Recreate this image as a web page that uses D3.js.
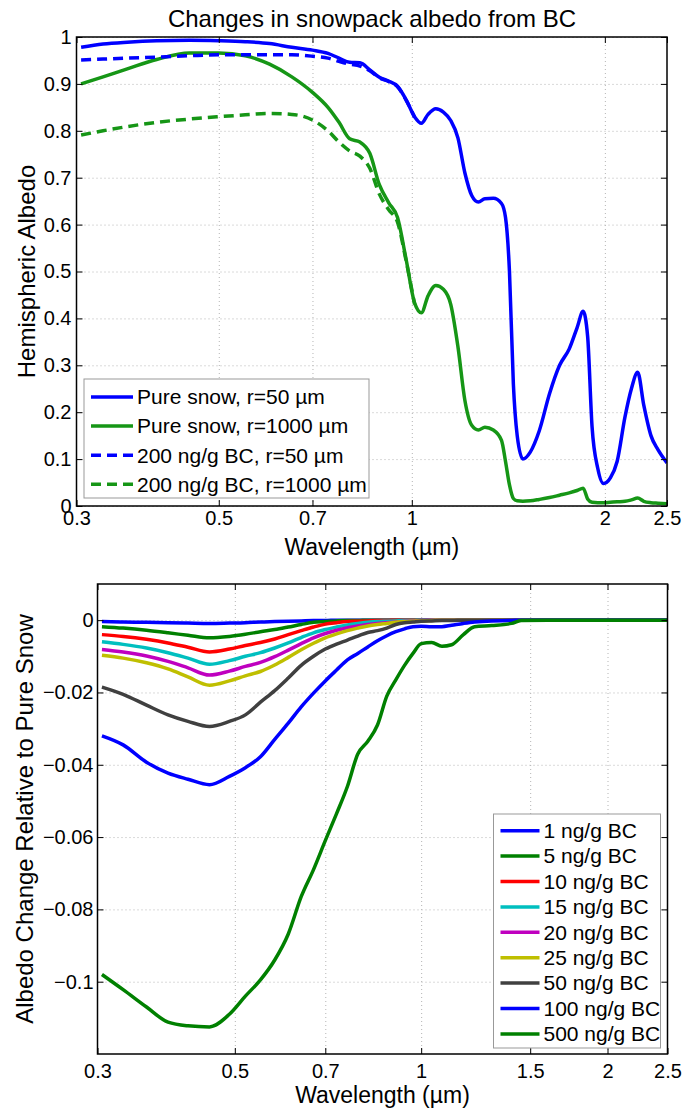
<!DOCTYPE html>
<html>
<head>
<meta charset="utf-8">
<script src="https://cdn.jsdelivr.net/npm/d3@7"></script>
<style>
  body { margin: 0; background: #fff; }
  svg text { font-family: "Liberation Sans", Arial, Helvetica, sans-serif; fill: #000; }
</style>
</head>
<body>
<div id="figure"></div>
<script>
// upper panel: hemispheric albedo
const albedoWavelengths = [0.305, 0.33, 0.36, 0.4, 0.45, 0.5, 0.55, 0.6, 0.65, 0.7,
  0.74, 0.77, 0.8, 0.83, 0.86, 0.89, 0.92, 0.95, 0.98, 1.01,
  1.035, 1.06, 1.09, 1.12, 1.15, 1.18, 1.21, 1.24, 1.27, 1.3,
  1.34, 1.38, 1.4, 1.42, 1.44, 1.46, 1.49, 1.53, 1.58, 1.64,
  1.7, 1.76, 1.81, 1.85, 1.88, 1.91, 1.95, 1.99, 2.04, 2.09,
  2.15, 2.2, 2.25, 2.3, 2.36, 2.42, 2.5];
const pureSnowR50 = [0.978, 0.985, 0.989, 0.992, 0.993, 0.992, 0.990, 0.986, 0.978, 0.972,
  0.965, 0.955, 0.946, 0.945, 0.930, 0.914, 0.906, 0.895, 0.866, 0.830,
  0.816, 0.835, 0.847, 0.840, 0.822, 0.785, 0.710, 0.662, 0.648, 0.655,
  0.656, 0.645, 0.615, 0.500, 0.260, 0.150, 0.100, 0.115, 0.160, 0.240,
  0.300, 0.335, 0.380, 0.415, 0.362, 0.170, 0.080, 0.048, 0.060, 0.095,
  0.190, 0.250, 0.285, 0.215, 0.150, 0.120, 0.092];
const pureSnowR1000 = [0.900, 0.915, 0.932, 0.952, 0.966, 0.966, 0.960, 0.942, 0.915, 0.882,
  0.850, 0.818, 0.783, 0.776, 0.752, 0.685, 0.647, 0.615, 0.525, 0.433,
  0.412, 0.448, 0.470, 0.462, 0.430, 0.340, 0.225, 0.172, 0.162, 0.168,
  0.162, 0.140, 0.095, 0.045, 0.016, 0.011, 0.010, 0.011, 0.014, 0.018,
  0.023, 0.028, 0.033, 0.038, 0.015, 0.008, 0.007, 0.007, 0.008, 0.009,
  0.010, 0.013, 0.017, 0.010, 0.007, 0.006, 0.005];
const bcWavelengths = [0.305, 0.33, 0.36, 0.4, 0.45, 0.5, 0.55, 0.6, 0.65, 0.7,
  0.74, 0.77, 0.8, 0.83, 0.86, 0.89, 0.92, 0.95, 0.98, 1.01];
const bcR50 = [0.951, 0.953, 0.955, 0.957, 0.960, 0.962, 0.962, 0.962, 0.962, 0.959,
  0.955, 0.948, 0.942, 0.938, 0.928, 0.913, 0.905, 0.894, 0.865, 0.829];
const bcR1000 = [0.791, 0.800, 0.809, 0.818, 0.825, 0.830, 0.834, 0.837, 0.835, 0.823,
  0.800, 0.776, 0.757, 0.746, 0.720, 0.665, 0.632, 0.605, 0.522, 0.430];
const albedoLabels = ['Pure snow, r=50 \u00b5m', 'Pure snow, r=1000 \u00b5m',
  '200 ng/g BC, r=50 \u00b5m', '200 ng/g BC, r=1000 \u00b5m'];
const albedoXTicks = [0.3, 0.5, 0.7, 1, 2, 2.5];
const albedoXTickLabels = ['0.3', '0.5', '0.7', '1', '2', '2.5'];
const albedoYTicks = [0, 0.1, 0.2, 0.3, 0.4, 0.5, 0.6, 0.7, 0.8, 0.9, 1];
const albedoYTickLabels = ['0', '0.1', '0.2', '0.3', '0.4', '0.5', '0.6', '0.7', '0.8', '0.9', '1'];

// lower panel: albedo change relative to pure snow
const changeWavelengths = [0.305, 0.33, 0.36, 0.39, 0.42, 0.455, 0.49, 0.52, 0.55, 0.58,
  0.61, 0.64, 0.67, 0.7, 0.73, 0.76, 0.79, 0.82, 0.85, 0.88,
  0.91, 0.94, 0.97, 1.0, 1.04, 1.08, 1.12, 1.17, 1.22, 1.3,
  1.4, 1.45, 1.6, 1.8, 2.0, 2.2, 2.5];
const change1 = [-0.0004, -0.0005, -0.0006, -0.0007, -0.0008, -0.0009, -0.0008, -0.0007, -0.0005, -0.0004,
  -0.0003, -0.0002, -0.0001, -0.0001, 0, 0, 0, 0, 0, 0,
  0, 0, 0, 0, 0, 0, 0, 0, 0, 0,
  0, 0, 0, 0, 0, 0, 0];
const change5 = [-0.0018, -0.0022, -0.0028, -0.0035, -0.0042, -0.0049, -0.0045, -0.0039, -0.0032, -0.0026,
  -0.0019, -0.0012, -0.0006, -0.0004, -0.0002, -0.0001, -0.0001, 0, 0, 0,
  0, 0, 0, 0, 0, 0, 0, 0, 0, 0,
  0, 0, 0, 0, 0, 0, 0];
const change10 = [-0.0040, -0.0045, -0.0053, -0.0063, -0.0075, -0.0088, -0.0080, -0.0070, -0.0062, -0.0052,
  -0.0040, -0.0029, -0.0019, -0.0011, -0.0007, -0.0004, -0.0003, -0.0002, -0.0001, -0.0001,
  0, 0, 0, 0, 0, 0, 0, 0, 0, 0,
  0, 0, 0, 0, 0, 0, 0];
const change15 = [-0.0060, -0.0067, -0.0077, -0.0090, -0.0105, -0.0122, -0.0112, -0.0100, -0.0090, -0.0077,
  -0.0063, -0.0048, -0.0035, -0.0026, -0.0019, -0.0013, -0.0009, -0.0006, -0.0004, -0.0003,
  -0.0002, -0.0001, -0.0001, 0, 0, 0, 0, 0, 0, 0,
  0, 0, 0, 0, 0, 0, 0];
const change20 = [-0.0081, -0.0088, -0.0099, -0.0114, -0.0132, -0.0152, -0.0141, -0.0128, -0.0117, -0.0101,
  -0.0083, -0.0065, -0.0049, -0.0037, -0.0028, -0.0021, -0.0016, -0.0012, -0.0009, -0.0007,
  -0.0005, -0.0003, -0.0002, -0.0001, 0, 0, 0, 0, 0, 0,
  0, 0, 0, 0, 0, 0, 0];
const change25 = [-0.0097, -0.0105, -0.0118, -0.0135, -0.0157, -0.0180, -0.0168, -0.0154, -0.0142, -0.0124,
  -0.0103, -0.0082, -0.0064, -0.0049, -0.0038, -0.0029, -0.0022, -0.0016, -0.0012, -0.0009,
  -0.0006, -0.0004, -0.0003, -0.0002, -0.0001, 0, 0, 0, 0, 0,
  0, 0, 0, 0, 0, 0, 0];
const change50 = [-0.0185, -0.0205, -0.0235, -0.0262, -0.0280, -0.0294, -0.0280, -0.0262, -0.0227, -0.0195,
  -0.0160, -0.0125, -0.0100, -0.0080, -0.0066, -0.0055, -0.0044, -0.0034, -0.0029, -0.0022,
  -0.0012, -0.0007, -0.0005, -0.0003, -0.0002, -0.0001, -0.0001, 0, 0, 0,
  0, 0, 0, 0, 0, 0, 0];
const change100 = [-0.0320, -0.0345, -0.0393, -0.0423, -0.0440, -0.0455, -0.0432, -0.0408, -0.0378, -0.0330,
  -0.0285, -0.0240, -0.0202, -0.0168, -0.0138, -0.0110, -0.0092, -0.0074, -0.0057, -0.0043,
  -0.0032, -0.0024, -0.0018, -0.0017, -0.0018, -0.0018, -0.0014, -0.0009, -0.0005, -0.0002,
  -0.0001, 0, 0, 0, 0, 0, 0];
const change500 = [-0.0980, -0.1022, -0.1070, -0.1112, -0.1122, -0.1125, -0.1090, -0.1040, -0.0995, -0.0940,
  -0.0868, -0.0765, -0.0690, -0.0610, -0.0535, -0.0460, -0.0370, -0.0335, -0.0290, -0.0210,
  -0.0165, -0.0125, -0.0092, -0.0065, -0.0062, -0.0072, -0.0068, -0.0040, -0.0018, -0.0015,
  -0.0009, -0.0001, 0, 0, 0, 0, 0];
const changeLabels = ['1 ng/g BC', '5 ng/g BC', '10 ng/g BC', '15 ng/g BC', '20 ng/g BC',
  '25 ng/g BC', '50 ng/g BC', '100 ng/g BC', '500 ng/g BC'];
const changeXTicks = [0.3, 0.5, 0.7, 1, 1.5, 2, 2.5];
const changeXTickLabels = ['0.3', '0.5', '0.7', '1', '1.5', '2', '2.5'];
const changeYTicks = [0, -0.02, -0.04, -0.06, -0.08, -0.1];
const changeYTickLabels = ['0', '\u22120.02', '\u22120.04', '\u22120.06', '\u22120.08', '\u22120.1'];

const fig = d3.select('#figure')
  .append('svg')
    .attr('width', 683)
    .attr('height', 1112);

function drawPanel(p) {
  const x = d3.scaleLog().domain([0.3, 2.5]).range([p.left, p.right]);
  const y = d3.scaleLinear().domain(p.yDomain).range([p.bottom, p.top]);
  const w = p.right - p.left;
  const h = p.bottom - p.top;
  const panel = fig.append('g');

  // dotted grid
  panel.append('g')
    .attr('transform', `translate(0,${p.bottom})`)
    .call(d3.axisBottom(x).tickValues(p.xTicks.slice(1, -1)).tickSize(-h).tickFormat(''))
    .call(g => g.select('.domain').remove())
    .selectAll('line')
      .attr('stroke', '#b4b4b4')
      .attr('stroke-dasharray', '1,3');
  panel.append('g')
    .attr('transform', `translate(${p.left},0)`)
    .call(d3.axisLeft(y).tickValues(p.yTicks).tickSize(-w).tickFormat(''))
    .call(g => g.select('.domain').remove())
    .selectAll('line')
      .attr('stroke', '#b4b4b4')
      .attr('stroke-dasharray', '1,3');

  panel.append('clipPath')
    .attr('id', p.id + '-clip')
    .append('rect')
      .attr('x', p.left)
      .attr('y', p.top)
      .attr('width', w)
      .attr('height', h);

  const line = d3.line()
    .x(d => x(d[0]))
    .y(d => y(d[1]))
    .curve(d3.curveMonotoneX);

  panel.append('g')
    .attr('clip-path', `url(#${p.id}-clip)`)
    .selectAll('path')
    .data(p.series)
    .join('path')
      .attr('d', d => line(d3.zip(d.wl, d.values)))
      .attr('fill', 'none')
      .attr('stroke', d => d.color)
      .attr('stroke-width', 3.5)
      .attr('stroke-linejoin', 'round')
      .attr('stroke-dasharray', d => d.dash ? '10,6' : null);

  // axes with labels, ticks pointing inward
  panel.append('g')
    .attr('transform', `translate(0,${p.bottom})`)
    .call(d3.axisBottom(x).tickValues(p.xTicks).tickFormat((d, i) => p.xTickLabels[i])
      .tickSizeInner(-6).tickSizeOuter(0).tickPadding(p.xPad))
    .call(g => g.select('.domain').remove())
    .attr('font-size', 20);
  panel.append('g')
    .attr('transform', `translate(${p.left},0)`)
    .call(d3.axisLeft(y).tickValues(p.yTicks).tickFormat((d, i) => p.yTickLabels[i])
      .tickSizeInner(-6).tickSizeOuter(0).tickPadding(p.yPad))
    .call(g => g.select('.domain').remove())
    .attr('font-size', 20);
  panel.append('g')
    .attr('transform', `translate(0,${p.top})`)
    .call(d3.axisTop(x).tickValues(p.xTicks).tickFormat('').tickSizeInner(-6).tickSizeOuter(0))
    .call(g => g.select('.domain').remove());
  panel.append('g')
    .attr('transform', `translate(${p.right},0)`)
    .call(d3.axisRight(y).tickValues(p.yTicks).tickFormat('').tickSizeInner(-6).tickSizeOuter(0))
    .call(g => g.select('.domain').remove());

  panel.append('rect')
    .attr('x', p.left)
    .attr('y', p.top)
    .attr('width', w)
    .attr('height', h)
    .attr('fill', 'none')
    .attr('stroke', '#000')
    .attr('stroke-width', 1.5);

  // legend
  const lg = p.legend;
  panel.append('rect')
    .attr('x', lg.x)
    .attr('y', lg.y)
    .attr('width', lg.w)
    .attr('height', lg.h)
    .attr('fill', '#fff')
    .attr('stroke', '#999');
  const rows = panel.append('g')
    .selectAll('g')
    .data(p.series)
    .join('g')
      .attr('transform', (d, i) => `translate(${lg.x + 7},${lg.row0 + i * lg.dy})`);
  rows.append('line')
    .attr('x1', 0)
    .attr('x2', lg.lineLen)
    .attr('stroke', d => d.color)
    .attr('stroke-width', 3.5)
    .attr('stroke-dasharray', d => d.dash ? '10,6' : null);
  rows.append('text')
    .attr('x', lg.lineLen + 4)
    .attr('dy', '0.35em')
    .attr('font-size', lg.fontSize)
    .text(d => d.label);

  // axis titles
  fig.append('text')
    .attr('x', (p.left + p.right) / 2)
    .attr('y', p.xLabelY)
    .attr('text-anchor', 'middle')
    .attr('font-size', 23)
    .text('Wavelength (\u00b5m)');
  fig.append('text')
    .attr('transform', `translate(${p.yLabelX},${(p.top + p.bottom) / 2}) rotate(-90)`)
    .attr('text-anchor', 'middle')
    .attr('font-size', 24)
    .text(p.yLabel);
}

fig.append('text')
  .attr('x', 372)
  .attr('y', 27)
  .attr('text-anchor', 'middle')
  .attr('font-size', 24)
  .text('Changes in snowpack albedo from BC');

const topGreen = '#169616';
drawPanel({
  id: 'albedo',
  left: 76.5, right: 667, top: 37, bottom: 506,
  yDomain: [0, 1],
  xTicks: albedoXTicks, xTickLabels: albedoXTickLabels,
  yTicks: albedoYTicks, yTickLabels: albedoYTickLabels,
  xPad: 5, yPad: 5,
  xLabelY: 555, yLabelX: 35,
  yLabel: 'Hemispheric Albedo',
  series: [
    { wl: albedoWavelengths, values: pureSnowR50, color: '#0000ff', dash: false, label: albedoLabels[0] },
    { wl: albedoWavelengths, values: pureSnowR1000, color: topGreen, dash: false, label: albedoLabels[1] },
    { wl: bcWavelengths, values: bcR50, color: '#0000ff', dash: true, label: albedoLabels[2] },
    { wl: bcWavelengths, values: bcR1000, color: topGreen, dash: true, label: albedoLabels[3] }
  ],
  legend: { x: 84, y: 379, w: 285, h: 119, row0: 397, dy: 29.1, lineLen: 42, fontSize: 21 }
});

const changeSeries = [change1, change5, change10, change15, change20, change25, change50, change100, change500];
const changeColors = ['#0000ff', '#008000', '#ff0000', '#00bfbf', '#bf00bf', '#bfbf00', '#404040', '#0000ff', '#008000'];
drawPanel({
  id: 'change',
  left: 97.5, right: 667.5, top: 584, bottom: 1054,
  yDomain: [-0.12, 0.01],
  xTicks: changeXTicks, xTickLabels: changeXTickLabels,
  yTicks: changeYTicks, yTickLabels: changeYTickLabels,
  xPad: 10, yPad: 4,
  xLabelY: 1103, yLabelX: 33,
  yLabel: 'Albedo Change Relative to Pure Snow',
  series: changeSeries.map((v, i) => ({
    wl: changeWavelengths, values: v, color: changeColors[i], dash: false, label: changeLabels[i]
  })),
  legend: { x: 493.5, y: 814, w: 167, h: 234, row0: 830.7, dy: 25.4, lineLen: 39, fontSize: 21 }
});
</script>
</body>
</html>
